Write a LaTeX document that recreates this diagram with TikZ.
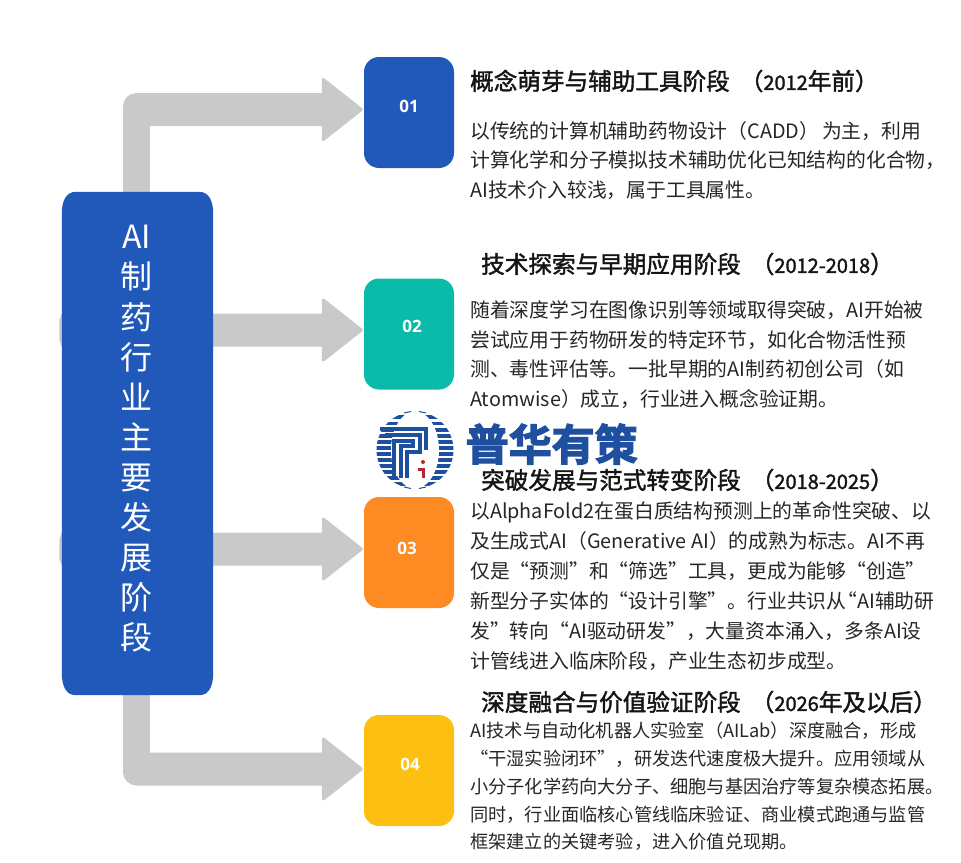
\documentclass[tikz,border=0pt]{standalone}
\usepackage{fontspec}
\usetikzlibrary{calc,backgrounds}
\setmainfont{Noto Sans CJK SC}
\newfontfamily\headfont[FakeBold=1.7]{Noto Sans CJK SC}
\newfontfamily\logofont[FakeBold=3]{Noto Sans CJK SC Bold}
\newfontfamily\numfont{Open Sans}
\newcommand{\dg}[1]{{\fontsize{20}{26}\selectfont #1}}
\newcommand{\lp}{\hspace{10pt}（}
\definecolor{mainblue}{HTML}{2159BB}
\definecolor{teal2}{HTML}{0BBBA9}
\definecolor{orange3}{HTML}{FD8A22}
\definecolor{yellow4}{HTML}{FDC012}
\definecolor{bargray}{HTML}{C9C9C9}
\definecolor{logoblue}{HTML}{1F4F9F}
\definecolor{logored}{HTML}{B5282E}
\tikzset{
  stage/.style={minimum width=90pt,minimum height=111pt,rounded corners=15pt,inner sep=0pt},
  numlabel/.style={text=white,inner sep=0pt,font=\numfont\bfseries\fontsize{17}{20}\selectfont},
  bararrow/.style={fill=bargray,draw=bargray,line width=3pt,line join=round},
  barstem/.style={bargray,line width=27pt},
  headline/.style={anchor=west,inner sep=0pt,text=black!92,font=\headfont\fontsize{23.6}{26}\selectfont},
  bodytext/.style={anchor=west,inner sep=0pt,align=left,text=black!85}
}
\newcommand{\straightbar}[2]{% start, tip
  \path[bararrow] (#2) -- ($(#2)+(-38,-30)$) -- ($(#2)+(-38,-15)$)
    -- ($(#1|-#2)+(0,-15)$) [rounded corners=6pt] -- ($(#1|-#2)+(-1,-15)$) -- ($(#1|-#2)+(-1,15)$) [sharp corners]
    -- ($(#1|-#2)+(0,15)$) -- ($(#2)+(-38,15)$) -- ($(#2)+(-38,30)$) -- cycle;}
\begin{document}
\begin{tikzpicture}[x=1pt,y=-1pt]
\useasboundingbox (0,0) rectangle (961,862);
% nodes
\node[minimum width=151pt,minimum height=503pt,inner sep=0pt] (main) at (137.5,443.5) {};
\fill[mainblue] ($(main.north west)+(0,22)$) .. controls ($(main.north west)+(0,8)$) and ($(main.north west)+(5,0)$) .. ($(main.north west)+(14,0)$)
  -- ($(main.north east)+(-14,0)$) .. controls ($(main.north east)+(-5,0)$) and ($(main.north east)+(0,8)$) .. ($(main.north east)+(0,22)$)
  -- ($(main.south east)+(0,-22)$) .. controls ($(main.south east)+(0,-8)$) and ($(main.south east)+(-5,0)$) .. ($(main.south east)+(-14,0)$)
  -- ($(main.south west)+(14,0)$) .. controls ($(main.south west)+(5,0)$) and ($(main.south west)+(0,-8)$) .. ($(main.south west)+(0,-22)$) -- cycle;
\node[stage,fill=mainblue] (b1) at (409,112.5) {};
\node[stage,fill=teal2] (b2) at (409,334) {};
\node[stage,fill=orange3] (b3) at (409,552.5) {};
\node[stage,fill=yellow4] (b4) at (409,770.5) {};
\node[numlabel] (n1) at (409,106.5) {01};
\node[numlabel] (n2) at (412,326.5) {02};
\node[numlabel] (n3) at (407,548.5) {03};
\node[numlabel] (n4) at (410,764.5) {04};
\node[text=white,align=center,inner sep=0pt,font=\fontsize{32}{40.1}\selectfont] (mt) at (136.5,439) {AI\\制\\药\\行\\业\\主\\要\\发\\展\\阶\\段};
% tips
\coordinate (t1) at ($(b1.west)+(-2.5,-3)$);
\coordinate (t2) at ($(b2.west)+(-2.5,-4)$);
\coordinate (t3) at ($(b3.west)+(-2.5,-3.5)$);
\coordinate (t4) at ($(b4.west)+(-2.5,-1.5)$);
\coordinate (stemx) at (136.5,0);
\coordinate (elbowx) at (124.5,0);
\begin{scope}[on background layer]
  \draw[barstem] (stemx|-main.north) -- (stemx|-t1);
  \draw[barstem] (stemx|-main.south) -- (stemx|-t4);
  \path[bararrow] (t1) -- ($(t1)+(-38,-30)$) -- ($(t1)+(-38,-15)$) [rounded corners=12pt] -- ($(elbowx|-t1)+(0,-15)$) [sharp corners] -- ($(elbowx|-t1)+(0,15)$) -- ($(t1)+(-38,15)$) -- ($(t1)+(-38,30)$) -- cycle;
  \path[bararrow] (t4) -- ($(t4)+(-38,30)$) -- ($(t4)+(-38,15)$) [rounded corners=12pt] -- ($(elbowx|-t4)+(0,15)$) [sharp corners] -- ($(elbowx|-t4)+(0,-15)$) -- ($(t4)+(-38,-15)$) -- ($(t4)+(-38,-30)$) -- cycle;
  \straightbar{main.west}{t2}
  \straightbar{main.west}{t3}
\end{scope}
% headings
\node[headline] (h1) at (470,81) {概念萌芽与辅助工具阶段\lp\dg{2012}年前）};
\node[headline] (h2) at (481,264) {技术探索与早期应用阶段\lp\dg{2012-2018}）};
\node[headline] (h3) at (481,480) {突破发展与范式转变阶段\lp\dg{2018-2025}）};
\node[headline] (h4) at (481,702) {深度融合与价值验证阶段\lp\dg{2026}年及以后）};
% bodies
\node[bodytext,font=\fontsize{19.8}{29.5}\selectfont] (d1) at (470,160.5) {以传统的计算机辅助药物设计（CADD）\hspace{3pt}为主，利用\\计算化学和分子模拟技术辅助优化已知结构的化合物，\\AI技术介入较浅，属于工具属性。};
\node[bodytext,font=\fontsize{19.8}{29.7}\selectfont] (d2) at (470,354.5) {随着深度学习在图像识别等领域取得突破，AI开始被\\尝试应用于药物研发的特定环节，如化合物活性预\\测、毒性评估等。一批早期的AI制药初创公司（如\\Atomwise）成立，行业进入概念验证期。};
\node[bodytext,font=\fontsize{19.8}{30}\selectfont] (d3) at (470,586) {以AlphaFold2在蛋白质结构预测上的革命性突破、以\\及生成式AI（Generative AI）的成熟为标志。AI不再\\仅是“预测”和“筛选”工具，更成为能够“创造”\\新型分子实体的“设计引擎”。行业共识从\hspace{-9pt}“AI辅助研\\发”转向“AI驱动研发”，大量资本涌入，多条AI设\\计管线进入临床阶段，产业生态初步成型。};
\node[bodytext,font=\fontsize{18.2}{27.8}\selectfont] (d4) at (470,786.5) {AI技术与自动化机器人实验室（AILab）深度融合，形成\\“干湿实验闭环”，研发迭代速度极大提升。应用领域从\\小分子化学药向大分子、细胞与基因治疗等复杂模态拓展。\\同时，行业面临核心管线临床验证、商业模式跑通与监管\\框架建立的关键考验，进入价值兑现期。};
% logo
\node[anchor=west,inner sep=0pt,text=logoblue,font=\logofont\fontsize{43}{48}\selectfont] (logotext) at (465.5,444) {普华有策};
\begin{scope}
  \clip (415,450) circle (38.5);
  \foreach \yy in {417,423.5,430,436,442,448,454,460,466,472,478,484}
    \fill[logoblue] (370,\yy-1.8) rectangle (460,\yy+1.8);
  \fill[white] (415,450) ellipse (24 and 38.5);
\end{scope}
\draw[logoblue,line width=3.2pt] (380,429) -- (426,429) -- (426,450);
\draw[logoblue,line width=3.2pt] (385,435) -- (420,435) -- (420,452) -- (407,452) -- (407,478);
\draw[logoblue,line width=3.2pt] (394,478) -- (394,441) -- (413,441) -- (413,446) -- (401,446) -- (401,478);
\fill[logored] (423,462) circle (2);
\draw[logored,line width=3pt] (418,469) -- (423,469) -- (423,478);
\draw[logoblue,line width=1pt] (404,413) -- (411,411.5) (419,411.5) -- (426,413) (404,487) -- (411,488.5) (419,488.5) -- (426,487);
\end{tikzpicture}
\end{document}
